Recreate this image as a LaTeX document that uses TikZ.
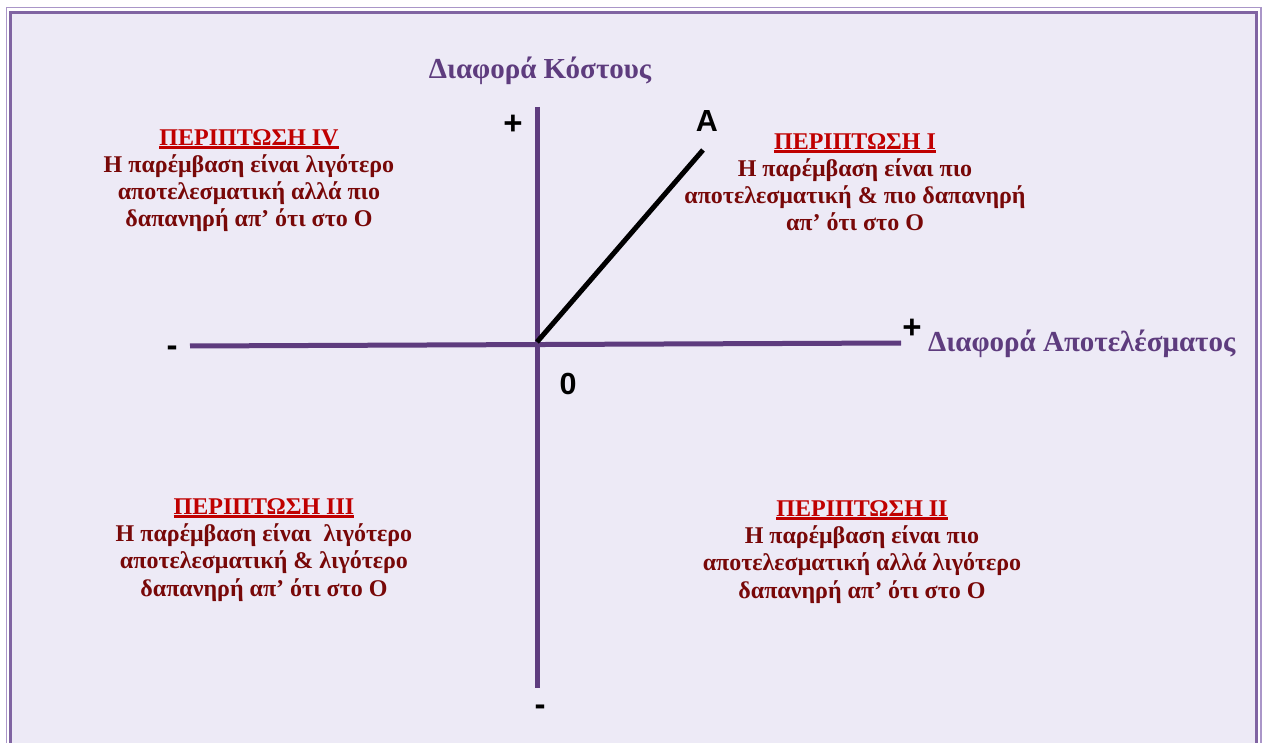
\documentclass[tikz,border=0pt]{standalone}
\usepackage{fontspec}
\setmainfont{Liberation Serif}
\newfontfamily\sansfam{Liberation Sans}
\definecolor{bglav}{RGB}{237,234,246}
\definecolor{borderin}{RGB}{128,100,162}
\definecolor{borderout}{RGB}{170,150,200}
\definecolor{axispurple}{RGB}{94,60,126}
\definecolor{titlered}{RGB}{192,0,0}
\definecolor{bodyred}{RGB}{120,8,8}
\newcommand{\ulx}[1]{\setbox0\hbox{#1}\rlap{\color{titlered}\rule[-3.8pt]{\wd0}{2.6pt}}\box0}
\tikzset{
  axisline/.style={draw=axispurple, line width=5pt},
  oaline/.style={draw=black, line width=5pt},
  axislabel/.style={inner sep=0pt, anchor=base, text=axispurple, font=\fontsize{29}{32}\selectfont\bfseries},
  sign/.style={inner sep=0pt, anchor=base, text=black, font=\sansfam\fontsize{33}{36}\selectfont\bfseries},
  letter/.style={inner sep=0pt, anchor=base, text=black, font=\sansfam\fontsize{30.5}{34}\selectfont\bfseries},
  casebox/.style={inner sep=0pt, anchor=base, align=center, text=bodyred, font=\fontsize{24}{27.3}\selectfont\bfseries},
}
\begin{document}
\begin{tikzpicture}[x=1pt,y=-1pt]
\useasboundingbox (0,0) rectangle (1267,743);
\clip (0,0) rectangle (1267,743);
\fill[white] (0,0) rectangle (1267,743);
\fill[bglav] (10.5,13) rectangle (1256.5,760);
\draw[borderout, line width=1.6pt] (6.5,7.5) rectangle (1261,760);
\draw[borderin, line width=3pt] (10.5,13) rectangle (1256.5,760);

% axes
\coordinate (vtop) at (537,107);
\coordinate (vbot) at (537,688);
\coordinate (hl) at (190,346);
\coordinate (hr) at (901,343);
\coordinate (O) at (537,342);
\coordinate (Aend) at (703,150);
\draw[axisline] (vtop) -- (vbot);
\draw[axisline] (hl) -- (hr);
\draw[oaline] (O) -- (Aend);

% axis labels
\node[axislabel] (ylab) at (540,79) {Διαφορά Κόστους};
\node[axislabel, anchor=base west] (xlab) at (928,352) {Διαφορά Αποτελέσματος};

% signs
\node[sign] (yplus) at (513,134.5) {+};
\node[sign] (xplus) at (912,338.5) {+};
\node[sign] (xminus) at (172,356) {-};
\node[sign] (yminus) at (540,715) {-};
\node[letter] (labA) at (707,131.5) {A};
\node[letter] (labO) at (568,395) {0};

% cases (anchor base = baseline of last line)
\node[casebox] (c4) at (249,227) {{\color{titlered}\ulx{ΠΕΡΙΠΤΩΣΗ IV}}\\Η παρέμβαση είναι λιγότερο\\αποτελεσματική αλλά πιο\\δαπανηρή απ’ ότι στο Ο};
\node[casebox] (c1) at (855,231) {{\color{titlered}\ulx{ΠΕΡΙΠΤΩΣΗ Ι}}\\Η παρέμβαση είναι πιο\\αποτελεσματική \& πιο δαπανηρή\\απ’ ότι στο Ο};
\node[casebox] (c3) at (264,596) {{\color{titlered}\ulx{ΠΕΡΙΠΤΩΣΗ ΙΙΙ}}\\Η παρέμβαση είναι~ λιγότερο\\αποτελεσματική \& λιγότερο\\δαπανηρή απ’ ότι στο Ο};
\node[casebox] (c2) at (862,598) {{\color{titlered}\ulx{ΠΕΡΙΠΤΩΣΗ ΙΙ}}\\Η παρέμβαση είναι πιο\\αποτελεσματική αλλά λιγότερο\\δαπανηρή απ’ ότι στο Ο};
\end{tikzpicture}
\end{document}
